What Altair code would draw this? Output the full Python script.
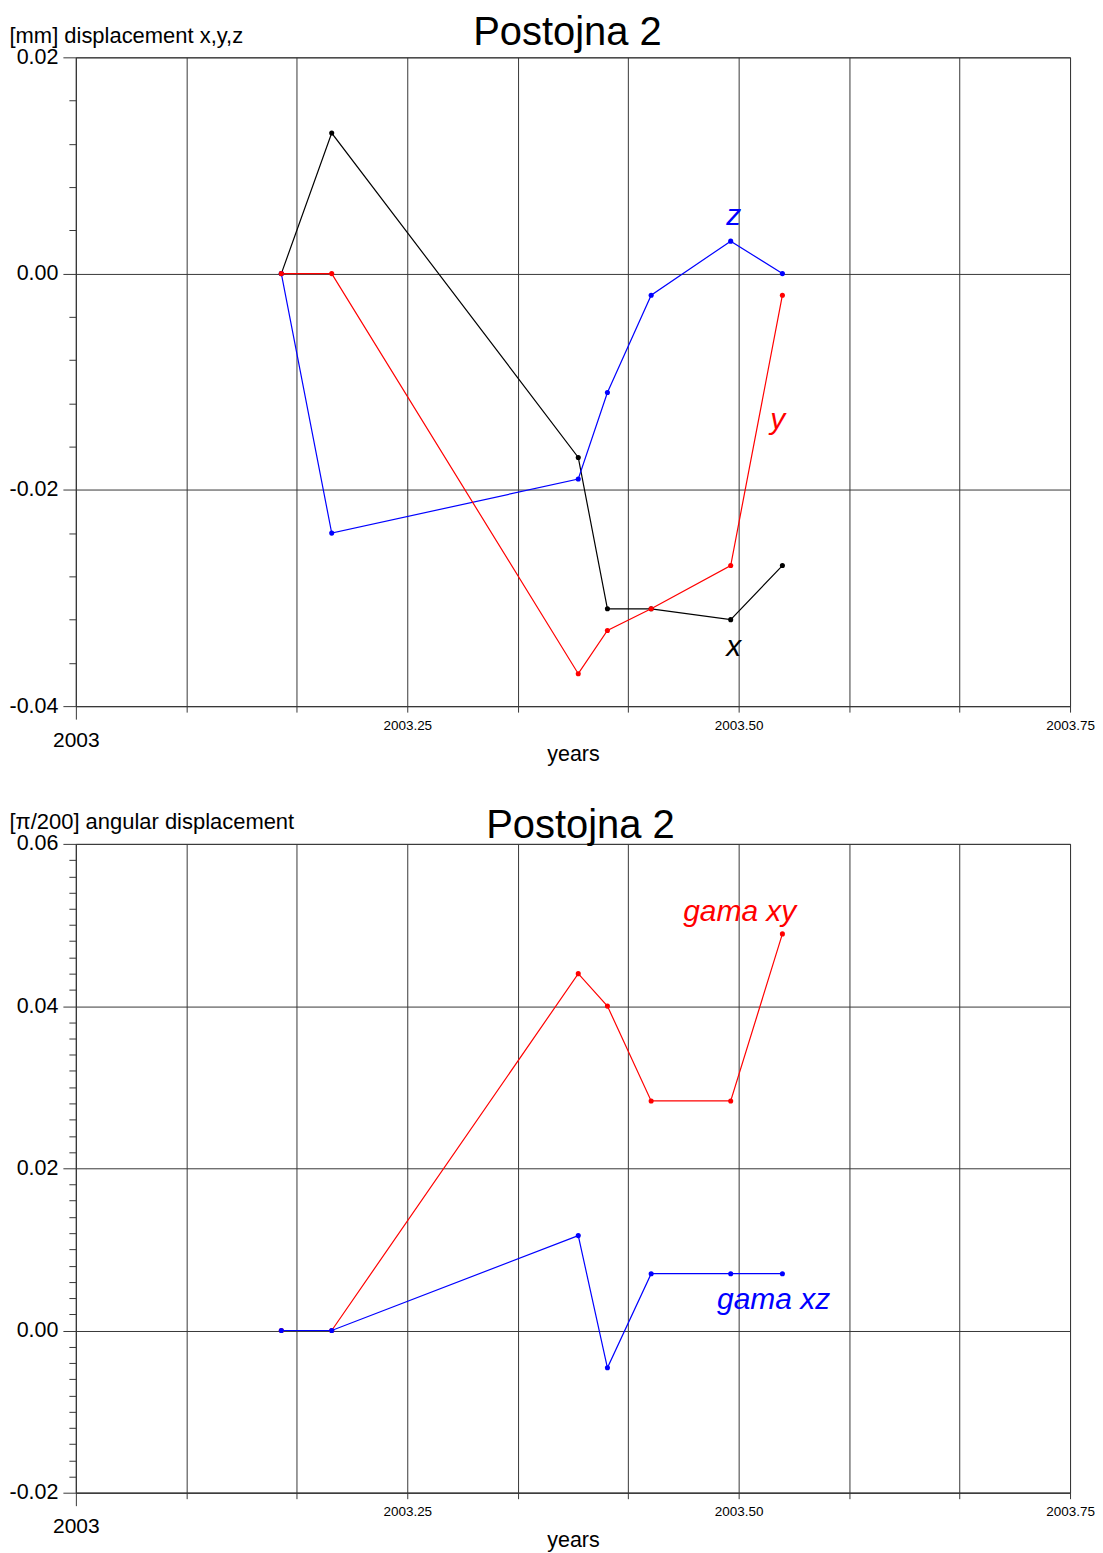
import altair as alt
import pandas as pd

FONT = "Liberation Sans"

# ---- data ----
years = [2003.155, 2003.193, 2003.379, 2003.401, 2003.434, 2003.494, 2003.533]
disp_x = [0.0, 0.013, -0.017, -0.031, -0.031, -0.032, -0.027]
disp_y = [0.0, 0.0, -0.037, -0.033, -0.031, -0.027, -0.002]
disp_z = [0.0, -0.024, -0.019, -0.011, -0.002, 0.003, 0.0]
gama_xy = [0.0, 0.0, 0.044, 0.040, 0.0283, 0.0283, 0.0489]
gama_xz = [0.0, 0.0, 0.0117, -0.0046, 0.007, 0.007, 0.007]

top_series = [("x", disp_x, "#000000"), ("z", disp_z, "#0000ff"), ("y", disp_y, "#ff0000")]
bottom_series = [("gama xy", gama_xy, "#ff0000"), ("gama xz", gama_xz, "#0000ff")]

top_labels = ["z", "y", "x"]
top_label_x = [2003.4962, 2003.5294, 2003.4962]
top_label_y = [0.0045, -0.0144, -0.0354]
top_label_color = ["#0000ff", "#ff0000", "#000000"]

bottom_labels = ["gama xy", "gama xz"]
bottom_label_x = [2003.5008, 2003.5264]
bottom_label_y = [0.0505, 0.0026]
bottom_label_color = ["#ff0000", "#0000ff"]

panel_title = "Postojna 2"
top_caption = "[mm] displacement x,y,z"
bottom_caption = "[π/200] angular displacement"
x_title = "years"

x_ticks = [round(2003 + i / 12, 6) for i in range(10)]
top_y_ticks = [round(-0.04 + i * 0.004, 4) for i in range(16)]
bottom_y_ticks = [round(-0.02 + i * 0.002, 4) for i in range(41)]

GRID = "#383838"
W, H = 996, 650

is_quarter = "abs(datum.value*4 - round(datum.value*4)) < 0.000001"
is_2003 = "abs(datum.value - 2003) < 0.000001"
is_major_y = "abs(datum.value*50 - round(datum.value*50)) < 0.000001"

xscale = alt.Scale(domain=[2003, 2003.75], nice=False, zero=False)


def x_axis():
    return alt.Axis(
        values=x_ticks,
        title=x_title,
        labelExpr=f"{is_2003} ? '2003' : ({is_quarter} ? format(datum.value, '.2f') : '')",
        labelFontSize={"condition": {"test": is_2003, "value": 21}, "value": 13.5},
        labelPadding={"condition": {"test": is_2003, "value": 10}, "value": 6},
        tickSize={"condition": {"test": is_2003, "value": 13}, "value": 6},
        labelFlush=False,
        labelOverlap=False,
        labelBound=False,
        grid=True,
        titleFontSize=21.5,
        titleY=54,
        titleBaseline="alphabetic",
    )


def y_axis(ticks, title, ty):
    return alt.Axis(
        values=ticks,
        title=title,
        labelExpr=f"{is_major_y} ? ((datum.value < 0 ? '-' : '') + format(abs(datum.value), '.2f')) : ''",
        tickSize={"condition": {"test": is_major_y, "value": 13}, "value": 7},
        gridOpacity={"condition": {"test": is_major_y, "value": 1}, "value": 0},
        labelFontSize=21.5,
        labelPadding=5,
        labelOverlap=False,
        labelFlush=False,
        labelBound=False,
        grid=True,
        titleFontSize=22,
        titleAngle=0,
        titleAlign="left",
        titleBaseline="alphabetic",
        titleX=-67,
        titleY=ty,
    )


def panel(series, ydomain, yticks, ytitle, ty, labels, lx, ly, lc, title_y, title_dx):
    yscale = alt.Scale(domain=ydomain, nice=False, zero=False)
    xax = x_axis()
    yax = y_axis(yticks, ytitle, ty)
    layers = []
    for name, vals, color in series:
        df = pd.DataFrame({"t": years, "v": vals})
        base = alt.Chart(df).encode(
            x=alt.X("t:Q", scale=xscale, axis=xax),
            y=alt.Y("v:Q", scale=yscale, axis=yax),
        )
        layers.append(base.mark_line(color=color, strokeWidth=1.2))
        layers.append(base.mark_circle(color=color, size=26, opacity=1))
    ldf = pd.DataFrame({"label": labels, "t": lx, "v": ly, "c": lc})
    layers.append(
        alt.Chart(ldf)
        .mark_text(font=FONT, fontSize=30, fontStyle="italic", align="center", baseline="alphabetic")
        .encode(
            x=alt.X("t:Q", scale=xscale, axis=xax),
            y=alt.Y("v:Q", scale=yscale, axis=yax),
            text="label:N",
            color=alt.Color("c:N", scale=None),
        )
    )
    tdf = pd.DataFrame({"title": [panel_title]})
    layers.append(
        alt.Chart(tdf)
        .mark_text(font=FONT, fontSize=40, color="black", align="center", baseline="alphabetic")
        .encode(text="title:N", x=alt.value(W / 2 + title_dx), y=alt.value(title_y))
    )
    return alt.layer(*layers).properties(width=W, height=H)


top = panel(top_series, [-0.04, 0.02], top_y_ticks, top_caption, -15,
            top_labels, top_label_x, top_label_y, top_label_color, -12, -5.5)
bottom = panel(bottom_series, [-0.02, 0.06], bottom_y_ticks, bottom_caption, -15,
               bottom_labels, bottom_label_x, bottom_label_y, bottom_label_color, -6, 7.5)

chart = (
    alt.vconcat(top, bottom, spacing=138, bounds="flush")
    .properties(padding={"left": 0, "top": 3, "right": 0, "bottom": 0})
    .configure_view(stroke=GRID, strokeWidth=1)
    .configure_axis(
        gridColor=GRID,
        gridWidth=1,
        tickColor=GRID,
        domainColor=GRID,
        labelColor="black",
        titleColor="black",
        labelFont=FONT,
        titleFont=FONT,
        titleFontWeight="normal",
    )
)

chart.save("out.html", embed_options={"renderer": "svg", "actions": False})
